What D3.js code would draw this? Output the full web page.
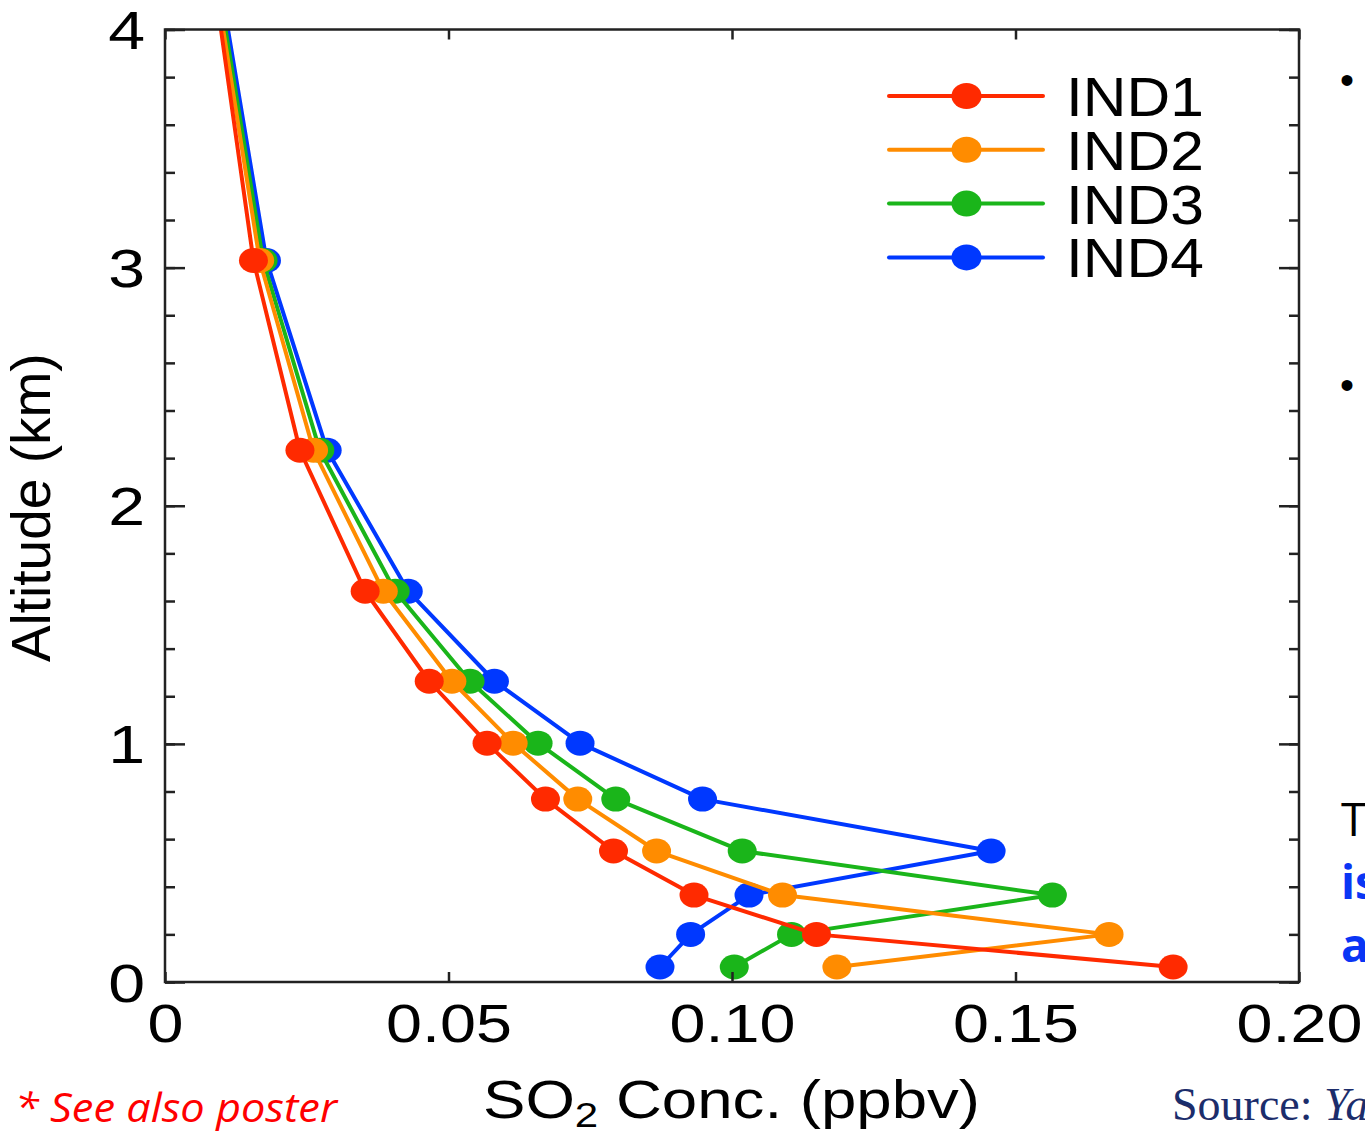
<!DOCTYPE html>
<html>
<head>
<meta charset="utf-8">
<script src="https://cdn.jsdelivr.net/npm/d3@7"></script>
<style>
  body { margin: 0; background: #fff; }
  svg { display: block; }
</style>
</head>
<body>
<svg id="svg1" width="1365" height="1131"></svg>
<script>
'use strict';

// altitude of each model level (km), shared by all series
const altitudes = [0.063, 0.2, 0.365, 0.55, 0.768, 1.003, 1.263, 1.641, 2.233, 3.03, 4.13];

// SO2 concentration (ppbv) for each case
const ind1 = [0.1778, 0.1149, 0.0933, 0.0791, 0.0671, 0.0568, 0.0466, 0.0353, 0.0238, 0.0156, 0.0091];
const ind2 = [0.1185, 0.1665, 0.1089, 0.0867, 0.0728, 0.0614, 0.0506, 0.0385, 0.0262, 0.0167, 0.0094];
const ind3 = [0.1004, 0.1105, 0.1565, 0.1018, 0.0795, 0.0658, 0.0538, 0.0406, 0.0273, 0.0173, 0.0098];
const ind4 = [0.0873, 0.0927, 0.1030, 0.1457, 0.0948, 0.0732, 0.0581, 0.0429, 0.0286, 0.0179, 0.0102];

const seriesNames = ["IND1", "IND2", "IND3", "IND4"];
const seriesColors = ["#ff2a00", "#ff8c00", "#1ab51a", "#0038ff"];

const xTicks = [0, 0.05, 0.10, 0.15, 0.20];
const xTickLabels = ["0", "0.05", "0.10", "0.15", "0.20"];
const yTicks = [0, 1, 2, 3, 4];
const yMinorTicks = d3.range(0, 4.01, 0.2);

let svg = d3.select("#svg1");
let frameColor = "#222";

let x = d3.scaleLinear().domain([0, 0.2]).range([165, 1299]);
let y = d3.scaleLinear().domain([0, 4]).range([982, 29.5]);

// stretch text horizontally, the original lettering is wider than Arial
function stretch(sel, k) {
  sel.each(function() {
    let len = this.getComputedTextLength();
    d3.select(this).attr("textLength", len * k).attr("lengthAdjust", "spacingAndGlyphs");
  });
}

// clip the curves to the plot box
svg.append("clipPath").attr("id", "plotClip")
  .append("rect")
  .attr("x", x(0)).attr("y", y(4))
  .attr("width", x(0.2) - x(0)).attr("height", y(0) - y(4));

let series = [ind1, ind2, ind3, ind4].map((vals, i) => ({
  name: seriesNames[i],
  color: seriesColors[i],
  points: vals.map((v, j) => ({ v: v, h: altitudes[j] }))
}));

// draw blue first so red ends on top
let plot = svg.append("g").attr("clip-path", "url(#plotClip)");
let line = d3.line().x(d => x(d.v)).y(d => y(d.h));
series.slice().reverse().forEach(s => {
  let g = plot.append("g");
  g.append("path")
    .datum(s.points)
    .attr("d", line)
    .attr("fill", "none")
    .attr("stroke", s.color)
    .attr("stroke-width", 4)
    .attr("stroke-linejoin", "round");
  g.selectAll("ellipse")
    .data(s.points)
    .enter().append("ellipse")
    .attr("cx", d => x(d.v))
    .attr("cy", d => y(d.h))
    .attr("rx", 14.5)
    .attr("ry", 12.5)
    .attr("fill", s.color);
});

// axes, ticks pointing inward
function styleAxis(g) {
  g.select(".domain").remove();
  g.selectAll(".tick line").attr("stroke", frameColor).attr("stroke-width", 2.5);
  g.selectAll(".tick text")
    .attr("fill", "#000")
    .style("font-family", "'Liberation Sans', Arial, sans-serif")
    .style("font-size", "53px");
}

svg.append("g")
  .attr("transform", `translate(${x(0)},0)`)
  .call(d3.axisLeft(y).tickValues(yMinorTicks).tickSize(-10).tickFormat(""))
  .call(styleAxis);
let yAxis = svg.append("g")
  .attr("transform", `translate(${x(0)},0)`)
  .call(d3.axisLeft(y).tickValues(yTicks).tickSize(-20).tickPadding(20).tickFormat(d3.format("d")))
  .call(styleAxis);
yAxis.selectAll(".tick text").attr("dy", "0.36em");
stretch(yAxis.selectAll(".tick text"), 1.25);

svg.append("g")
  .attr("transform", `translate(${x(0.2)},0)`)
  .call(d3.axisRight(y).tickValues(yMinorTicks).tickSize(-10).tickFormat(""))
  .call(styleAxis);
svg.append("g")
  .attr("transform", `translate(${x(0.2)},0)`)
  .call(d3.axisRight(y).tickValues(yTicks).tickSize(-20).tickFormat(""))
  .call(styleAxis);

let xAxis = svg.append("g")
  .attr("transform", `translate(0,${y(0)})`)
  .call(d3.axisBottom(x).tickValues(xTicks).tickSize(-10).tickPadding(22)
    .tickFormat((d, i) => xTickLabels[i]))
  .call(styleAxis);
stretch(xAxis.selectAll(".tick text"), 1.22);

svg.append("g")
  .attr("transform", `translate(0,${y(4)})`)
  .call(d3.axisTop(x).tickValues(xTicks).tickSize(-10).tickFormat(""))
  .call(styleAxis);

// plot frame
svg.append("rect")
  .attr("x", x(0)).attr("y", y(4))
  .attr("width", x(0.2) - x(0)).attr("height", y(0) - y(4))
  .attr("fill", "none")
  .attr("stroke", frameColor)
  .attr("stroke-width", 2.5);

// axis titles
svg.append("text")
  .attr("transform", `translate(50,${(y(0) + y(4)) / 2 + 2}) rotate(-90)`)
  .attr("text-anchor", "middle")
  .style("font-family", "'Liberation Sans', Arial, sans-serif")
  .style("font-size", "55px")
  .text("Altitude (km)");

let xTitle = svg.append("text")
  .attr("x", 483)
  .attr("y", 1118)
  .attr("textLength", 497)
  .attr("lengthAdjust", "spacingAndGlyphs")
  .style("font-family", "'Liberation Sans', Arial, sans-serif")
  .style("font-size", "53px");
xTitle.append("tspan").text("SO");
xTitle.append("tspan").attr("dy", 9).style("font-size", "35px").text("2");
xTitle.append("tspan").attr("dy", -9).text(" Conc. (ppbv)");

// legend
let legend = svg.append("g");
series.forEach((s, i) => {
  let ly = 96 + i * 53.8;
  legend.append("line")
    .attr("x1", 889).attr("x2", 1043)
    .attr("y1", ly).attr("y2", ly)
    .attr("stroke", s.color)
    .attr("stroke-width", 4)
    .attr("stroke-linecap", "round");
  legend.append("ellipse")
    .attr("cx", 966.5).attr("cy", ly)
    .attr("rx", 15).attr("ry", 13)
    .attr("fill", s.color);
  let t = legend.append("text")
    .attr("x", 1066)
    .attr("y", ly + 20)
    .style("font-family", "'Liberation Sans', Arial, sans-serif")
    .style("font-size", "56px")
    .text(s.name);
  stretch(t, 1.08);
});

// slide text around the chart
svg.append("text").attr("x", 1340).attr("y", 94)
  .style("font-family", "'Liberation Sans', Arial, sans-serif").style("font-size", "40px")
  .text("•");
svg.append("text").attr("x", 1340).attr("y", 399)
  .style("font-family", "'Liberation Sans', Arial, sans-serif").style("font-size", "40px")
  .text("•");
svg.append("text").attr("x", 1341).attr("y", 836)
  .style("font-family", "'Open Sans', 'Noto Sans', sans-serif").style("font-size", "46px")
  .attr("fill", "#000")
  .text("T");
svg.append("text").attr("x", 1341).attr("y", 899)
  .style("font-family", "'Open Sans', 'Noto Sans', sans-serif").style("font-size", "46px")
  .style("font-weight", "bold").attr("fill", "#0a35f5")
  .text("is");
svg.append("text").attr("x", 1341).attr("y", 962)
  .style("font-family", "'Open Sans', 'Noto Sans', sans-serif").style("font-size", "46px")
  .style("font-weight", "bold").attr("fill", "#0a35f5")
  .text("a");

svg.append("text").attr("x", 15).attr("y", 1122)
  .style("font-family", "'Open Sans', 'Noto Sans', sans-serif").style("font-size", "40px")
  .style("font-style", "italic").attr("fill", "#ff0000")
  .attr("textLength", 322).attr("lengthAdjust", "spacingAndGlyphs")
  .text("* See also poster");

let source = svg.append("text").attr("x", 1172).attr("y", 1120)
  .style("font-family", "'Liberation Serif', 'Times New Roman', serif").style("font-size", "46px")
  .attr("fill", "#1c2d6b");
source.append("tspan").text("Source: ");
source.append("tspan").style("font-style", "italic").text("Ya");
</script>
</body>
</html>
